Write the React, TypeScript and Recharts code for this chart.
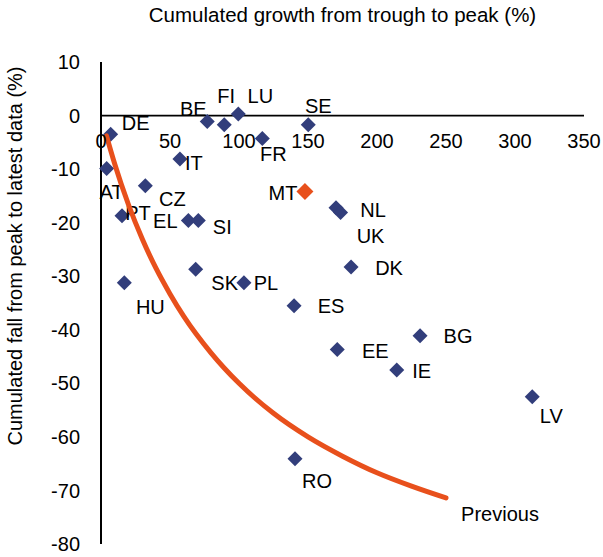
import React from 'react';
import { ScatterChart, Scatter, XAxis, YAxis, ReferenceLine, ReferenceDot } from 'recharts';

// countries: growth from trough to peak (%) vs fall from peak to latest data (%)
const countries = ['DE', 'AT', 'BE', 'FI', 'LU', 'SE', 'FR', 'IT', 'CZ', 'PT', 'EL', 'SI', 'NL', 'UK', 'DK', 'SK', 'PL', 'ES', 'EE', 'BG', 'IE', 'LV', 'RO', 'HU', 'MT'];
const growth = [7.0, 4.1, 77.0, 89.3, 99.5, 150.2, 116.9, 57.2, 32.1, 15.2, 63.3, 70.5, 170.3, 173.6, 181.2, 68.6, 103.6, 139.9, 171.2, 231.2, 214.3, 312.5, 140.6, 16.9, 147.8];
const fall = [-3.5, -9.9, -1.1, -1.7, 0.3, -1.7, -4.3, -8.1, -13.1, -18.7, -19.6, -19.6, -17.2, -18.1, -28.3, -28.7, -31.2, -35.5, -43.7, -41.1, -47.5, -52.5, -64.1, -31.2, -14.2];
const highlightCountry = 'MT';

// "Previous" curve
const previousGrowth = [4, 10, 20, 30, 40, 50, 60, 80, 100, 125, 150, 175, 200, 225, 250];
const previousFall = [-3.8, -9.1, -16.7, -23.1, -28.6, -33.3, -37.5, -44.4, -50, -55.6, -60, -63.6, -66.7, -69.2, -71.4];
const previousLabel = 'Previous';

const xTicks = [0, 50, 100, 150, 200, 250, 300, 350];
const yTicks = [10, 0, -10, -20, -30, -40, -50, -60, -70, -80];

const xTitle = 'Cumulated growth from trough to peak (%)';
const yTitle = 'Cumulated fall from peak to latest data (%)';

const navy = '#323E7B';
const orange = '#E8501C';
const font = '"Liberation Sans", Arial, sans-serif';

// where each country label sits relative to its marker
const labelOffset: Record<string, [number, number]> = {
  DE: [25, -11], AT: [5, 23], BE: [-14, -12], FI: [2, -29], LU: [22, -18],
  SE: [10, -19], FR: [11, 15], IT: [14, 4], CZ: [27, 13], PT: [16, -3],
  EL: [-23, 0], SI: [24, 6], MT: [-22, 1], NL: [37, 2], UK: [30, 24],
  DK: [38, 1], SK: [29, 14], PL: [22, 0], ES: [37, 0], EE: [38, 1],
  BG: [38, 0], IE: [25, 1], LV: [19, 19], RO: [22, 22], HU: [26, 24],
};

const points = countries.map((name, i) => ({ name, x: growth[i], y: fall[i] }));
const curve = previousGrowth.map((g, i) => ({ x: g, y: previousFall[i] }));
const last = curve[curve.length - 1];

const Diamond = (props: any) => {
  const { cx, cy, payload } = props;
  const hi = payload.name === highlightCountry;
  const r = hi ? 8.5 : 7.5;
  const [dx, dy] = labelOffset[payload.name] ?? [20, 0];
  return (
    <g>
      <polygon points={`${cx},${cy - r} ${cx + r},${cy} ${cx},${cy + r} ${cx - r},${cy}`} fill={hi ? orange : navy} />
      <text x={cx + dx} y={cy + dy} textAnchor="middle" dominantBaseline="central" fontSize={20} fontFamily={font} fill="#000">
        {payload.name}
      </text>
    </g>
  );
};

const App = () => {
  return (
    <div style={{ position: 'absolute', left: 0, top: 0, background: '#fff' }}>
      <ScatterChart width={603} height={557} margin={{ top: 0, right: 19, bottom: 13, left: 0 }}>
        <XAxis
          type="number"
          dataKey="x"
          domain={[0, 350]}
          ticks={xTicks}
          orientation="top"
          height={62}
          axisLine={false}
          tickLine={false}
          tick={false}
          label={{ value: xTitle, position: 'insideTop', offset: 7, fontSize: 20.5, fontFamily: font, fill: '#000' }}
        />
        <YAxis
          type="number"
          dataKey="y"
          domain={[-80, 10]}
          ticks={yTicks}
          width={101}
          axisLine={{ stroke: '#000', strokeWidth: 2 }}
          tickLine={false}
          tickMargin={15}
          tick={{ fontSize: 20, fontFamily: font, fill: '#000' }}
          label={{
            value: yTitle,
            content: () => (
              <text x={22} y={256} transform="rotate(-90, 22, 256)" textAnchor="middle" fontSize={20} fontFamily={font} fill="#000">
                {yTitle}
              </text>
            ),
          }}
        />
        <ReferenceLine y={0} stroke="#000" strokeWidth={1.8} />
        {xTicks.map((t) => (
          <ReferenceDot
            key={t}
            x={t}
            y={0}
            r={0}
            fill="none"
            stroke="none"
            label={{ value: t, position: 'bottom', offset: 18, fontSize: 20, fontFamily: font, fill: '#000' }}
          />
        ))}
        <Scatter data={points} shape={Diamond} isAnimationActive={false} />
        <Scatter
          data={curve}
          line={{ stroke: orange, strokeWidth: 5, strokeLinecap: 'round' }}
          lineJointType="monotoneX"
          shape={() => <g />}
          isAnimationActive={false}
        />
        <ReferenceDot
          x={last.x}
          y={last.y}
          r={0}
          fill="none"
          stroke="none"
          label={{
            value: previousLabel,
            content: (p: any) => (
              <text x={p.viewBox.x + 54} y={p.viewBox.y + 16} textAnchor="middle" dominantBaseline="central" fontSize={20} fontFamily={font} fill="#000">
                {previousLabel}
              </text>
            ),
          }}
        />
      </ScatterChart>
    </div>
  );
};

export default App;
